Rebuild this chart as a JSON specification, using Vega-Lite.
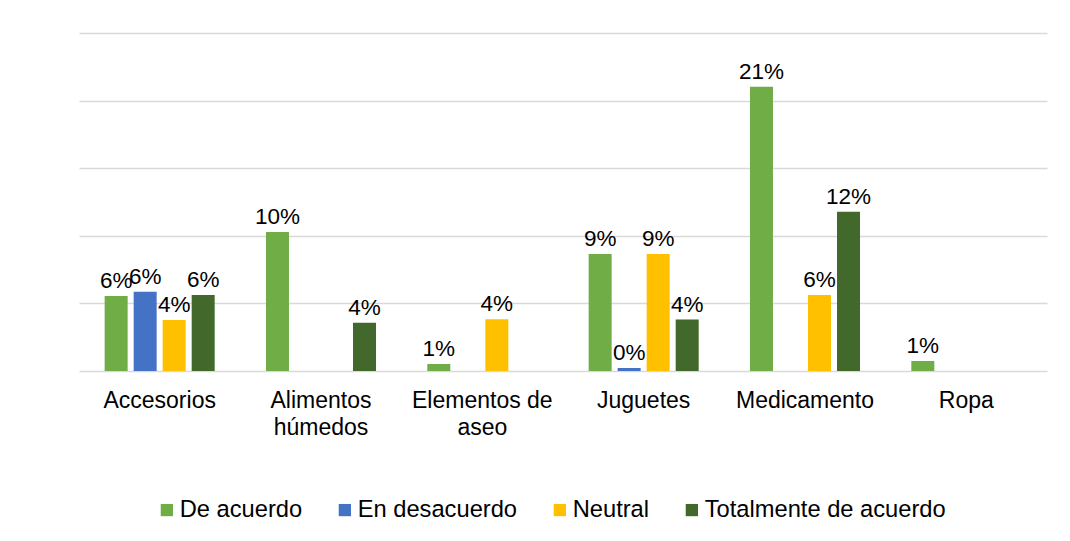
{
  "$schema": "https://vega.github.io/schema/vega-lite/v6.json",
  "autosize": "none",
  "width": 968,
  "height": 338,
  "padding": {"left": 79, "top": 33, "right": 23, "bottom": 170},
  "background": "white",
  "config": {
    "font": "Liberation Sans",
    "view": {"stroke": null}
  },
  "data": {
    "values": [
      {"categoria": "Accesorios", "respuesta": "De acuerdo", "valor": 0.0555},
      {"categoria": "Accesorios", "respuesta": "En desacuerdo", "valor": 0.0587},
      {"categoria": "Accesorios", "respuesta": "Neutral", "valor": 0.0377},
      {"categoria": "Accesorios", "respuesta": "Totalmente de acuerdo", "valor": 0.0562},
      {"categoria": "Alimentos húmedos", "respuesta": "De acuerdo", "valor": 0.1028},
      {"categoria": "Alimentos húmedos", "respuesta": "Totalmente de acuerdo", "valor": 0.0357},
      {"categoria": "Elementos de aseo", "respuesta": "De acuerdo", "valor": 0.0052},
      {"categoria": "Elementos de aseo", "respuesta": "Neutral", "valor": 0.0382},
      {"categoria": "Juguetes", "respuesta": "De acuerdo", "valor": 0.0865},
      {"categoria": "Juguetes", "respuesta": "En desacuerdo", "valor": 0.0022},
      {"categoria": "Juguetes", "respuesta": "Neutral", "valor": 0.0865},
      {"categoria": "Juguetes", "respuesta": "Totalmente de acuerdo", "valor": 0.038},
      {"categoria": "Medicamento", "respuesta": "De acuerdo", "valor": 0.2103},
      {"categoria": "Medicamento", "respuesta": "Neutral", "valor": 0.0562},
      {"categoria": "Medicamento", "respuesta": "Totalmente de acuerdo", "valor": 0.1178},
      {"categoria": "Ropa", "respuesta": "De acuerdo", "valor": 0.0074}
    ]
  },
  "encoding": {
    "x": {
      "field": "categoria",
      "type": "nominal",
      "sort": ["Accesorios", "Alimentos húmedos", "Elementos de aseo", "Juguetes", "Medicamento", "Ropa"],
      "scale": {"paddingInner": 0.282, "paddingOuter": 0.141},
      "axis": {
        "title": null,
        "labelAngle": 0,
        "ticks": false,
        "domain": false,
        "labelFontSize": 23,
        "labelColor": "#000000",
        "labelPadding": 18,
        "labelLineHeight": 27,
        "labelLimit": 300,
        "labelExpr": "datum.label == 'Alimentos húmedos' ? ['Alimentos', 'húmedos'] : datum.label == 'Elementos de aseo' ? ['Elementos de', 'aseo'] : datum.label"
      }
    },
    "xOffset": {
      "field": "respuesta",
      "type": "nominal",
      "sort": ["De acuerdo", "En desacuerdo", "Neutral", "Totalmente de acuerdo"],
      "scale": {"domain": ["De acuerdo", "En desacuerdo", "Neutral", "Totalmente de acuerdo"], "paddingInner": 0.207, "paddingOuter": 0.1}
    },
    "y": {
      "field": "valor",
      "type": "quantitative",
      "scale": {"domain": [0, 0.25], "nice": false},
      "axis": {
        "title": null,
        "values": [0, 0.05, 0.1, 0.15, 0.2, 0.25],
        "labels": false,
        "ticks": false,
        "domain": false,
        "grid": true,
        "gridColor": "#d9d9d9",
        "gridWidth": 1.5
      }
    }
  },
  "layer": [
    {
      "mark": {"type": "bar"},
      "encoding": {
        "color": {
          "field": "respuesta",
          "type": "nominal",
          "scale": {
            "domain": ["De acuerdo", "En desacuerdo", "Neutral", "Totalmente de acuerdo"],
            "range": ["#70AD47", "#4472C4", "#FFC000", "#43682B"]
          },
          "legend": {
            "title": null,
            "orient": "none",
            "direction": "horizontal",
            "legendX": 76,
            "legendY": 465,
            "symbolType": "square",
            "symbolSize": 150,
            "symbolStrokeWidth": 0,
            "labelFontSize": 23.7,
            "labelColor": "#000000",
            "labelOffset": 1,
            "columnPadding": 30,
            "labelLimit": 400
          }
        }
      }
    },
    {
      "mark": {"type": "text", "baseline": "alphabetic", "dy": -8, "fontSize": 22.5, "color": "#000000"},
      "encoding": {
        "text": {"field": "valor", "type": "quantitative", "format": ".0%"}
      }
    }
  ]
}
